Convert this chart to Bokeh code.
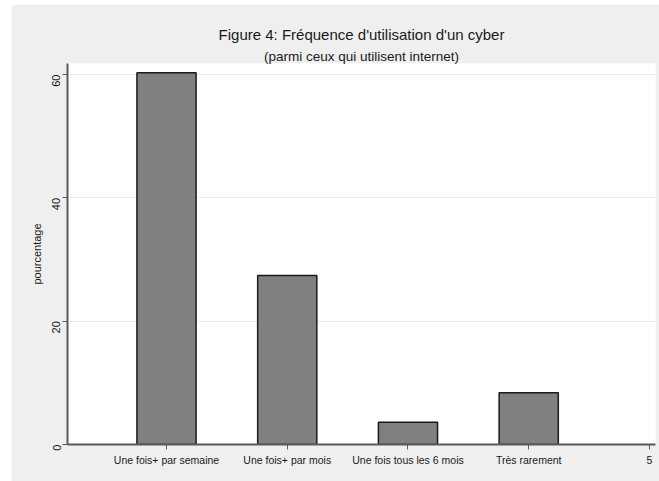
import math
from bokeh.plotting import figure
from bokeh.models import Range1d, Title, FixedTicker
from bokeh.embed import file_html
from bokeh.resources import INLINE

categories = ["Une fois+ par semaine", "Une fois+ par mois", "Une fois tous les 6 mois", "Très rarement"]
positions = [1, 2, 3, 4]
values = [60.3, 27.4, 3.6, 8.4]
x_ticks = [1, 2, 3, 4, 5]
x_tick_labels = {1: "Une fois+ par semaine", 2: "Une fois+ par mois", 3: "Une fois tous les 6 mois", 4: "Très rarement", 5: "5"}
y_ticks = [0, 20, 40, 60]

FONT = "Liberation Sans"
BG = "#EFEFEF"

p = figure(width=648, height=477, output_backend="svg", toolbar_location=None,
           margin=(4, 0, 0, 11),
           x_range=Range1d(0.18, 5.05), y_range=Range1d(0, 61.8),
           min_border_left=56, min_border_right=4, min_border_top=59, min_border_bottom=37)
p.background_fill_color = "white"
p.border_fill_color = BG
p.outline_line_color = None

p.vbar(x=positions, top=values, width=0.49, bottom=0,
       fill_color="#808080", line_color="#1A1A1A", line_width=1.5)

p.xgrid.visible = False
p.ygrid.ticker = FixedTicker(ticks=y_ticks)
p.ygrid.grid_line_color = "#EAEAEA"
p.ygrid.grid_line_width = 1

for ax in (p.xaxis[0], p.yaxis[0]):
    ax.axis_line_color = "#5A5A5A"
    ax.axis_line_width = 2
    ax.major_tick_line_color = "#5A5A5A"
    ax.major_tick_line_width = 1
    ax.major_tick_out = 5
    ax.major_tick_in = 0
    ax.minor_tick_out = 0
    ax.minor_tick_in = 0
    ax.major_label_text_font = FONT
    ax.major_label_text_color = "#1A1A1A"

p.xaxis.ticker = FixedTicker(ticks=x_ticks)
p.xaxis.major_label_overrides = x_tick_labels
p.xaxis.major_label_text_font_size = "10.5px"
p.xaxis.major_label_standoff = 4

p.yaxis.ticker = FixedTicker(ticks=y_ticks)
p.yaxis.major_label_text_font_size = "11px"
p.yaxis.major_label_orientation = math.pi / 2
p.yaxis.major_label_standoff = 6
p.yaxis.axis_label = "pourcentage"
p.yaxis.axis_label_text_font = FONT
p.yaxis.axis_label_text_font_size = "11px"
p.yaxis.axis_label_text_font_style = "normal"
p.yaxis.axis_label_text_color = "#1A1A1A"
p.yaxis.axis_label_standoff = 3

sub = Title(text="(parmi ceux qui utilisent internet)", align="center",
            text_font=FONT, text_font_size="13.5px", text_font_style="normal",
            text_color="#1A1A1A", standoff=0)
main = Title(text="Figure 4: Fréquence d'utilisation d'un cyber", align="center",
             text_font=FONT, text_font_size="15px", text_font_style="normal",
             text_color="#1A1A1A", standoff=7)
p.add_layout(sub, "above")
p.add_layout(main, "above")

open("out.html", "w").write(file_html(p, INLINE))
